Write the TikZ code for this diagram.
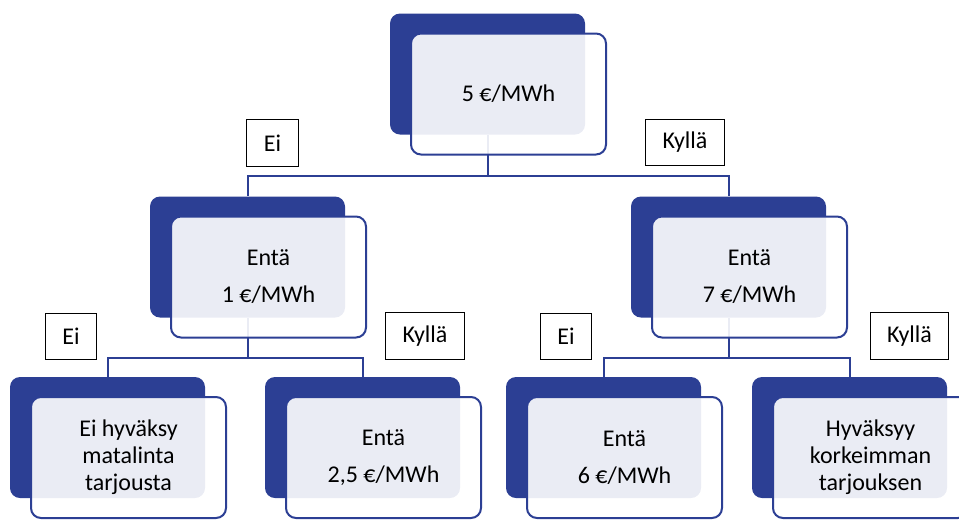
\documentclass[tikz,border=0pt]{standalone}
\usepackage{fontspec}
\setmainfont{Carlito}
\definecolor{treeblue}{RGB}{44,63,148}

\tikzstyle{boxback}=[rounded corners=7.5pt, fill=treeblue, minimum width=146.25pt, minimum height=90.75pt]
\tikzstyle{boxfront}=[rounded corners=7.5pt, draw=treeblue, line width=1.5pt, fill=white, fill opacity=0.9, text opacity=1, minimum width=146.25pt, minimum height=90.75pt, align=center, font=\fontsize{18}{20.25}\selectfont]
\tikzstyle{answer}=[draw=black, line width=0.8pt, fill=white, minimum height=35pt, inner xsep=12.75pt, font=\fontsize{18}{21}\selectfont]
\tikzstyle{link}=[draw=treeblue, line width=1.5pt]

\begin{document}
\begin{tikzpicture}[x=0.75pt, y=-0.75pt]
    \useasboundingbox (0, 0) rectangle (959, 519);

    % dark back boxes
    \node[boxback] (top-b) at (487.5, 74) {};
    \node[boxback] (l-b) at (247.5, 257) {};
    \node[boxback] (r-b) at (728.5, 257) {};
    \node[boxback] (ll-b) at (107.5, 437.5) {};
    \node[boxback] (lr-b) at (362.5, 437.5) {};
    \node[boxback] (rl-b) at (603.5, 437.5) {};
    \node[boxback] (rr-b) at (849.5, 437.5) {};

    % branches
    \coordinate (top-j) at (487.5, 176);
    \coordinate (l-j) at (247.5, 358);
    \coordinate (r-j) at (728.5, 358);

    \draw[link] (top-b.south) -- (top-j) -| (l-b.north);
    \draw[link] (top-j) -| (r-b.north);
    \draw[link] (l-b.south) -- (l-j) -| (ll-b.north);
    \draw[link] (l-j) -| (lr-b.north);
    \draw[link] (r-b.south) -- (r-j) -| (rl-b.north);
    \draw[link] (r-j) -| (rr-b.north);

    % front boxes with the text
    \node[boxfront] (top) at (508.5, 94) {5 €/MWh};
    \node[boxfront] (l) at (268.5, 277) {Entä\\[7.5pt]1 €/MWh};
    \node[boxfront] (r) at (749.5, 277) {Entä\\[7.5pt]7 €/MWh};
    \node[boxfront] (ll) at (128.5, 457.5) {Ei hyväksy\\matalinta\\tarjousta};
    \node[boxfront] (lr) at (383.5, 457.5) {Entä\\[7.5pt]2,5 €/MWh};
    \node[boxfront] (rl) at (624.5, 457.5) {Entä\\[7.5pt]6 €/MWh};
    \node[boxfront] (rr) at (870.5, 457.5) {Hyväksyy\\korkeimman\\tarjouksen};

    % answers
    \node[answer] (top-no) at (272.5, 143) {Ei};
    \node[answer] (top-yes) at (685, 142.5) {Kyllä};
    \node[answer] (l-no) at (71, 336.5) {Ei};
    \node[answer] (l-yes) at (425, 336) {Kyllä};
    \node[answer] (r-no) at (566, 336.5) {Ei};
    \node[answer] (r-yes) at (909.5, 336) {Kyllä};
\end{tikzpicture}
\end{document}
